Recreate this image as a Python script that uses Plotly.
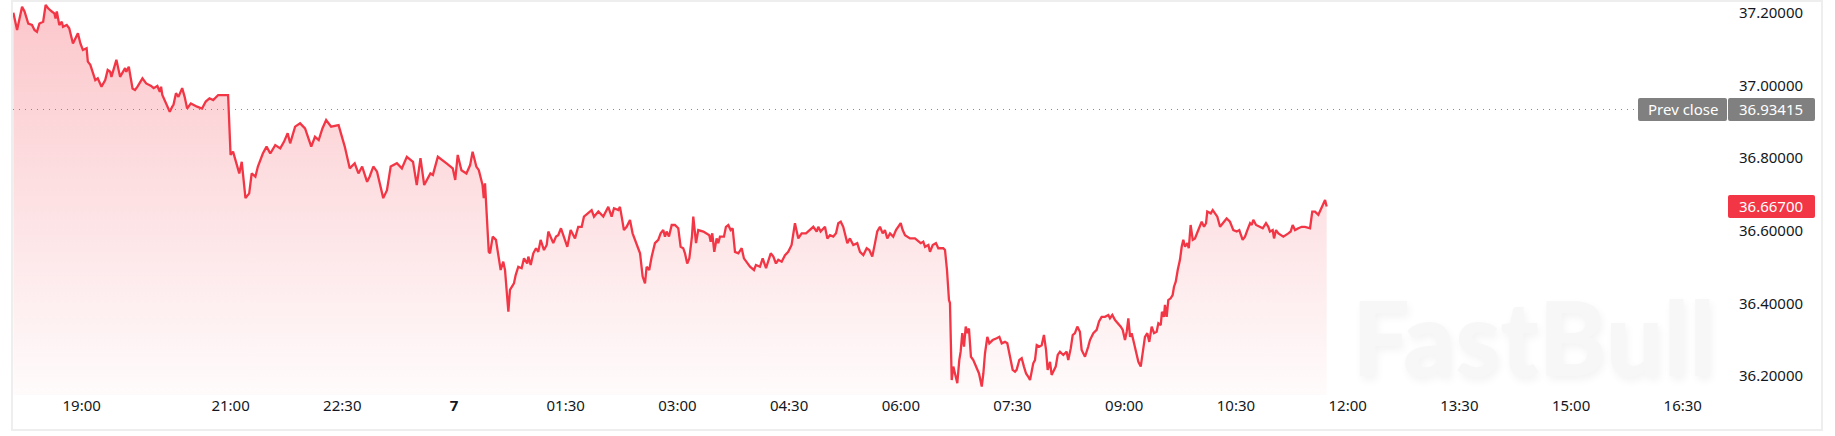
import plotly.graph_objects as go
import pandas as pd

# ---------------- data ----------------
session_start = "2025-01-06 18:00"
# minutes after session_start
minutes = [
    5, 8, 12, 14, 17, 20, 22, 24, 26, 29, 31, 33, 36, 38, 39, 40, 42, 44, 45, 48,
    50, 53, 57, 59, 61, 64, 65, 67, 71, 73, 76, 79, 81, 83, 84, 88, 91, 95, 96, 98,
    101, 103, 105, 109, 112, 116, 118, 121, 123, 124, 125, 127, 131, 133, 134, 136, 138, 141, 143, 145,
    148, 153, 157, 160, 163, 166, 170, 178, 180, 182, 187, 189, 192, 195, 197, 200, 202, 206, 209, 212,
    216, 220, 223, 226, 228, 232, 236, 240, 245, 248, 251, 254, 257, 261, 267, 272, 276, 280, 283, 286,
    290, 292, 295, 298, 300, 303, 306, 309, 314, 318, 322, 327, 330, 333, 336, 341, 343, 347, 354, 359,
    361, 363, 366, 370, 373, 375, 378, 380, 383, 384, 385,
    388, 389, 391.2, 393.8, 395.2, 397.6, 399.7, 401.1, 403.8, 405.1, 408.3, 409.7, 411.8, 414.5, 416.4,
    419.0, 419.9, 421.8, 423.9, 426.1, 427.9, 429.8, 432.5, 434.7, 436.0, 440.0, 442.2, 444.0, 446.2, 448.6,
    451.3, 454.0, 457.5, 460.1, 462.9, 464.7, 467.4, 470.9, 472.8, 476.3, 480.3, 484.3, 487.0, 488.9, 492.4,
    493.7, 495.1, 496.9, 499.1, 501.8, 503.9, 506.6, 509.9, 512.0, 513.9, 515.2, 517.3, 519.3, 521.9, 524.6,
    526.5, 528.6, 530.0, 531.3, 533.2, 535.4, 538.0, 540.7, 542.6, 544.7, 546.1, 547.9, 549.6, 551.7, 552.8,
    555.0, 556.8, 560.9, 563.6, 565.7, 566.8, 568.1, 569.7, 571.6, 572.9, 574.3, 577.5, 579.1, 581.0, 582.9,
    584.5, 586.4, 589.1, 591.8, 593.6, 595.8, 598.5, 601.7, 603.3, 606.5, 608.7, 611.4, 613.2, 615.2, 617.3,
    619.4, 621.3, 624.0, 626.7, 629.3, 632.0, 634.7, 637.4, 640.1, 643.6, 646.8, 649.5, 652.2, 653.5, 655.4,
    658.9, 660.8, 662.9, 665.6, 667.8, 669.6, 671.6, 673.6, 676.9, 679.0, 681.7, 684.9, 687.1, 689.8, 692.5,
    694.6, 697.0, 699.2, 701.0, 703.2, 705.4, 707.2, 709.1, 711.3, 713.9, 716.1, 719.9, 721.5, 723.4, 727.4,
    731.4, 736.0, 738.1, 739.5, 742.2, 743.5, 745.7, 748.3, 750.2, 754.2, 755.6, 757.2, 758.8, 759.6, 761.0,
    762.3, 763.6, 765.5, 767.1, 768.2, 769.5, 770.9, 772.3, 773.6, 774.9, 776.5, 778.4, 780.6, 783.0, 785.2,
    786.5, 787.8, 789.7, 791.3, 794.0, 797.2, 799.4, 801.3, 803.9, 805.8, 808.0, 810.1, 812.0, 813.3, 815.5,
    817.4, 819.2, 820.9, 822.7, 824.1, 825.4, 826.7, 828.1, 829.5, 831.6, 833.5, 835.3, 837.0, 838.3, 840.2,
    841.5, 843.4, 844.8, 846.4, 848.2, 850.9, 853.6, 854.9, 856.9, 858.5, 860.3, 862.2, 864.3, 865.7, 868.4,
    871.0, 872.4, 875.1, 877.8, 879.7, 881.8, 884.5, 887.2, 888.5, 890.4, 892.6, 895.2, 897.2, 898.8, 900.6,
    902.0, 903.3, 904.7, 906.0, 907.3, 909.2, 911.4, 913.3, 914.9, 916.7, 918.6, 920.2, 922.1, 924.0, 926.1,
    927.5, 929.4, 930.4, 932.0, 932.8, 934.2, 935.5, 937.4, 939.0, 940.1, 941.5, 943.1, 944.9, 946.3, 947.6,
    949.0, 950.8, 952.0, 953.5, 955.2, 957.0, 959.2, 961.0, 962.4, 964.3, 965.9, 966.9, 969.7, 971.3, 973.1,
    975.0, 977.2, 979.3, 981.2, 982.5, 985.2, 987.9, 990.6, 992.7, 995.4, 997.3, 999.2, 1001.4, 1002.7, 1004.0,
    1006.2, 1008.8, 1011.6, 1014.2, 1016.1, 1017.4, 1019.6, 1020.7, 1022.3, 1024.2, 1026.9, 1028.2, 1032.2, 1034.1, 1035.7,
    1037.6, 1040.3, 1043.0, 1045.6, 1049.7, 1051.5, 1053.7, 1056.4, 1058.3, 1060.4, 1061.8, 1063.1,
]
prices = [
    37.201, 37.153, 37.217, 37.204, 37.171, 37.167, 37.153, 37.148, 37.171, 37.176, 37.222, 37.213, 37.204, 37.199, 37.185, 37.204, 37.167, 37.176, 37.162, 37.167,
    37.158, 37.116, 37.144, 37.116, 37.098, 37.103, 37.066, 37.057, 37.015, 37.020, 36.997, 37.015, 37.043, 37.038, 37.024, 37.071, 37.024, 37.048, 37.038, 37.052,
    36.992, 36.988, 36.997, 37.020, 37.006, 36.999, 36.993, 36.999, 36.983, 36.997, 36.974, 36.960, 36.928, 36.942, 36.947, 36.979, 36.969, 36.993, 36.969, 36.937,
    36.951, 36.942, 36.937, 36.956, 36.965, 36.960, 36.974, 36.974, 36.809, 36.818, 36.758, 36.790, 36.690, 36.703, 36.758, 36.749, 36.777, 36.813, 36.832, 36.813,
    36.836, 36.827, 36.845, 36.869, 36.841, 36.887, 36.896, 36.882, 36.832, 36.859, 36.850, 36.882, 36.905, 36.887, 36.891, 36.832, 36.772, 36.786, 36.758, 36.777,
    36.735, 36.749, 36.777, 36.763, 36.731, 36.690, 36.712, 36.777, 36.786, 36.772, 36.804, 36.790, 36.726, 36.800, 36.726, 36.758, 36.754, 36.804, 36.786, 36.772,
    36.740, 36.809, 36.767, 36.758, 36.781, 36.818, 36.777, 36.767, 36.726, 36.690, 36.731,
    36.542, 36.538, 36.584, 36.575, 36.542, 36.492, 36.515, 36.492, 36.377, 36.437, 36.455, 36.478, 36.501, 36.497, 36.524,
    36.510, 36.529, 36.506, 36.538, 36.552, 36.542, 36.575, 36.547, 36.561, 36.598, 36.566, 36.584, 36.588, 36.607, 36.584,
    36.556, 36.602, 36.579, 36.611, 36.611, 36.639, 36.648, 36.657, 36.639, 36.653, 36.639, 36.666, 36.639, 36.662, 36.657,
    36.666, 36.639, 36.602, 36.611, 36.630, 36.593, 36.566, 36.538, 36.474, 36.455, 36.501, 36.492, 36.529, 36.566, 36.575,
    36.593, 36.602, 36.584, 36.598, 36.584, 36.616, 36.616, 36.607, 36.556, 36.552, 36.538, 36.510, 36.524, 36.584, 36.639,
    36.566, 36.602, 36.598, 36.593, 36.588, 36.570, 36.593, 36.542, 36.579, 36.566, 36.584, 36.584, 36.611, 36.616, 36.602,
    36.607, 36.542, 36.538, 36.552, 36.524, 36.515, 36.501, 36.492, 36.506, 36.501, 36.524, 36.497, 36.515, 36.538, 36.529,
    36.510, 36.520, 36.515, 36.533, 36.542, 36.561, 36.621, 36.579, 36.593, 36.593, 36.602, 36.611, 36.598, 36.611, 36.598,
    36.611, 36.579, 36.588, 36.584, 36.593, 36.621, 36.625, 36.611, 36.566, 36.579, 36.561, 36.566, 36.542, 36.533, 36.552,
    36.547, 36.529, 36.566, 36.598, 36.611, 36.593, 36.602, 36.579, 36.593, 36.584, 36.602, 36.621, 36.602, 36.588, 36.579,
    36.579, 36.566, 36.570, 36.556, 36.561, 36.542, 36.561, 36.566, 36.552, 36.552, 36.547, 36.492, 36.409, 36.401, 36.189,
    36.226, 36.207, 36.180, 36.244, 36.267, 36.318, 36.281, 36.336, 36.318, 36.331, 36.253, 36.244, 36.226, 36.207, 36.171,
    36.207, 36.262, 36.308, 36.290, 36.299, 36.304, 36.308, 36.290, 36.294, 36.290, 36.253, 36.217, 36.212, 36.217, 36.244,
    36.249, 36.226, 36.207, 36.198, 36.189, 36.212, 36.235, 36.244, 36.285, 36.281, 36.285, 36.313, 36.272, 36.217, 36.239,
    36.203, 36.217, 36.226, 36.258, 36.267, 36.258, 36.267, 36.244, 36.276, 36.313, 36.318, 36.336, 36.322, 36.272, 36.253,
    36.281, 36.299, 36.318, 36.327, 36.350, 36.363, 36.363, 36.368, 36.359, 36.368, 36.354, 36.345, 36.336, 36.327, 36.299,
    36.322, 36.359, 36.308, 36.318, 36.299, 36.272, 36.239, 36.226, 36.262, 36.308, 36.318, 36.294, 36.336, 36.318, 36.322,
    36.345, 36.340, 36.377, 36.363, 36.396, 36.363, 36.409, 36.414, 36.423, 36.446, 36.460, 36.492, 36.520, 36.556, 36.575,
    36.556, 36.566, 36.552, 36.616, 36.575, 36.579, 36.598, 36.611, 36.625, 36.611, 36.621, 36.653, 36.648, 36.657, 36.648,
    36.639, 36.611, 36.621, 36.630, 36.634, 36.625, 36.602, 36.598, 36.602, 36.575, 36.584, 36.602, 36.621, 36.616, 36.630,
    36.616, 36.611, 36.607, 36.621, 36.611, 36.598, 36.602, 36.579, 36.602, 36.593, 36.588, 36.584, 36.593, 36.598, 36.616,
    36.602, 36.607, 36.611, 36.611, 36.607, 36.653, 36.653, 36.644, 36.657, 36.671, 36.685, 36.667,
]
prev_close = 36.93415
last_price = 36.667
tick_times = [
    "2025-01-06 19:00", "2025-01-06 21:00", "2025-01-06 22:30", "2025-01-07 00:00",
    "2025-01-07 01:30", "2025-01-07 03:00", "2025-01-07 04:30", "2025-01-07 06:00",
    "2025-01-07 07:30", "2025-01-07 09:00", "2025-01-07 10:30", "2025-01-07 12:00",
    "2025-01-07 13:30", "2025-01-07 15:00", "2025-01-07 16:30",
]
tick_text = ["19:00", "21:00", "22:30", "<b>7</b>", "01:30", "03:00", "04:30", "06:00",
             "07:30", "09:00", "10:30", "12:00", "13:30", "15:00", "16:30"]
y_ticks = [36.2, 36.4, 36.6, 36.8, 37.0, 37.2]

# ---------------- layout geometry ----------------
W, H = 1835, 436
L, R, T, B = 13, 97, 3, 41
PW, PH = W - L - R, H - T - B
Y_RANGE = [36.1477, 37.2275]
t0 = pd.Timestamp(session_start)
X_RANGE = [t0 + pd.Timedelta(minutes=4.7), t0 + pd.Timedelta(minutes=1394.5)]
times = t0 + pd.to_timedelta(minutes, unit="min")

RED = "#F23645"
GREY_BOX = "#808080"
TXT = "#131722"
FONT = "Noto Sans"


def px_x(px):
    return (px - L) / PW


def px_y(py):
    return (H - B - py) / PH


def val_y(v):
    return (v - Y_RANGE[0]) / (Y_RANGE[1] - Y_RANGE[0])


def rounded_rect(x0, x1, yc, half_h, r=2.0):
    rx, ry = r / PW, r / PH
    a, b = px_x(x0), px_x(x1)
    y0, y1 = yc - half_h / PH, yc + half_h / PH
    return (f"M{a+rx},{y0} L{b-rx},{y0} Q{b},{y0} {b},{y0+ry} L{b},{y1-ry} Q{b},{y1} {b-rx},{y1} "
            f"L{a+rx},{y1} Q{a},{y1} {a},{y1-ry} L{a},{y0+ry} Q{a},{y0} {a+rx},{y0} Z")


fig = go.Figure()
fig.add_trace(go.Scatter(
    x=times, y=prices, mode="lines",
    line=dict(color=RED, width=2.3),
    fill="tozeroy",
    fillgradient=dict(type="vertical", start=Y_RANGE[0], stop=max(prices),
                      colorscale=[[0, "rgba(242,54,69,0.02)"], [1, "rgba(242,54,69,0.28)"]]),
    hoverinfo="skip", showlegend=False,
))

shapes = [
    dict(type="line", xref="paper", yref="paper", x0=0, x1=px_x(1638),
         y0=val_y(prev_close), y1=val_y(prev_close),
         line=dict(color="#8a8a8a", width=1, dash="1px,5px")),
    dict(type="rect", xref="paper", yref="paper", x0=px_x(12), x1=px_x(1822),
         y0=px_y(430), y1=px_y(1), line=dict(color="#eeeeee", width=2)),
    dict(type="path", xref="paper", yref="paper", path=rounded_rect(1638, 1727, val_y(prev_close), 11.5),
         fillcolor=GREY_BOX, line=dict(width=0)),
    dict(type="path", xref="paper", yref="paper", path=rounded_rect(1728, 1815, val_y(prev_close), 11.5),
         fillcolor=GREY_BOX, line=dict(width=0)),
    dict(type="path", xref="paper", yref="paper", path=rounded_rect(1728, 1815, val_y(last_price), 11.5),
         fillcolor=RED, line=dict(width=0)),
]

annotations = [
    dict(text="FastBull", xref="paper", yref="paper", x=px_x(1533), y=px_y(336),
         showarrow=False, xanchor="center", yanchor="middle",
         font=dict(family="Lato", size=102, color="#f7f7f7", weight=900,
                   shadow="2px 4px 8px rgba(0,0,0,0.05)")),
    dict(text="Prev close", xref="paper", yref="paper", x=px_x(1682.5), y=val_y(prev_close),
         showarrow=False, xanchor="center", yanchor="middle",
         font=dict(family=FONT, size=15, color="white")),
    dict(text=f"{prev_close:.5f}", xref="paper", yref="paper", x=px_x(1771.5), y=val_y(prev_close),
         showarrow=False, xanchor="center", yanchor="middle",
         font=dict(family=FONT, size=15, color="white")),
    dict(text=f"{last_price:.5f}", xref="paper", yref="paper", x=px_x(1771.5), y=val_y(last_price),
         showarrow=False, xanchor="center", yanchor="middle",
         font=dict(family=FONT, size=15, color="white")),
]

fig.update_layout(
    width=W, height=H,
    margin=dict(l=L, r=R, t=T, b=B, pad=0, autoexpand=False),
    paper_bgcolor="white", plot_bgcolor="white",
    font=dict(family=FONT, size=15, color=TXT),
    shapes=shapes, annotations=annotations,
    showlegend=False,
    xaxis=dict(type="date", range=X_RANGE, tickvals=tick_times, ticktext=tick_text,
               showgrid=False, zeroline=False, showline=False, ticks="", automargin=False,
               tickfont=dict(family=FONT, size=15, color=TXT), fixedrange=True),
    yaxis=dict(side="right", range=Y_RANGE, tickvals=y_ticks,
               ticktext=[f"{v:.5f}" for v in y_ticks], automargin=False,
               showgrid=False, zeroline=False, showline=False, ticks="",
               tickfont=dict(family=FONT, size=15, color=TXT), fixedrange=True),
)

fig.write_html("out.html", config={"displayModeBar": False, "staticPlot": True},
               post_script="document.body.style.margin='0';document.body.style.overflow='hidden';")
